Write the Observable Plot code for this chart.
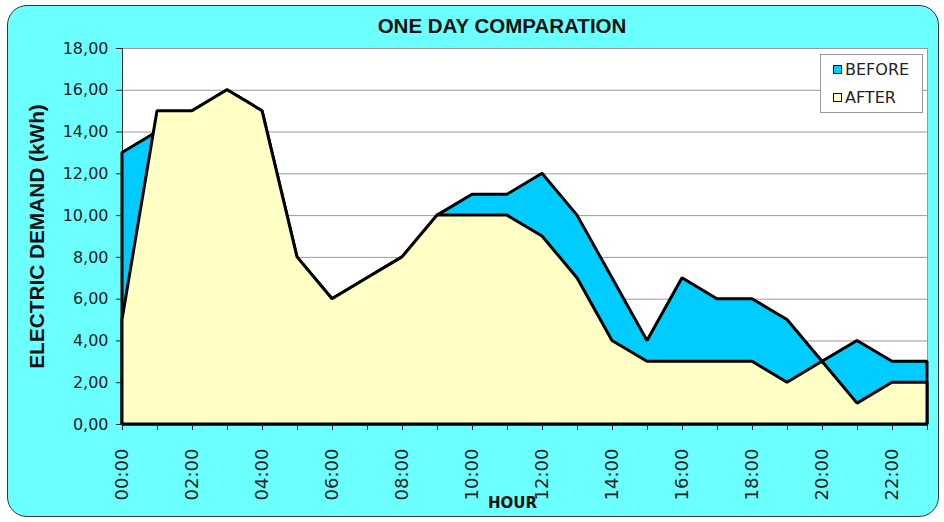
<!DOCTYPE html>
<html><head><meta charset="utf-8">
<script src="https://cdn.jsdelivr.net/npm/d3@7"></script>
<script src="https://cdn.jsdelivr.net/npm/@observablehq/plot@0.6"></script>
<style>
body{margin:0;background:#fff;}
#wrap{position:relative;width:944px;height:522px;overflow:hidden;}
#bg{position:absolute;left:7px;top:5px;width:930px;height:510px;background:#6CFFFF;border:1.5px solid #333;border-radius:20px;}
#chart{position:absolute;left:0;top:0;}
#legend{position:absolute;left:820px;top:54px;width:101px;height:57px;background:#fff;border:1px solid #999;font:16px "DejaVu Sans",sans-serif;color:#222;}
#legend .row{display:flex;align-items:center;height:28px;padding-left:12px;}
#legend .sw{width:7px;height:7px;border:1.5px solid #111;margin-right:3px;}
</style></head>
<body><div id="wrap"><div id="bg"></div><div id="chart"></div><div id="legend"></div></div>
<script>
const hours = ["00:00","01:00","02:00","03:00","04:00","05:00","06:00","07:00","08:00","09:00","10:00","11:00","12:00","13:00","14:00","15:00","16:00","17:00","18:00","19:00","20:00","21:00","22:00","23:00"];
const before = [13,14,15,16,15,8,6,7,8,10,11,11,12,10,7,4,7,6,6,5,3,4,3,3];
const after  = [5,15,15,16,15,8,6,7,8,10,10,10,9,7,4,3,3,3,3,2,3,1,2,2];
const seriesNames = ["BEFORE","AFTER"];
const seriesColors = ["#00CCFF","#FFFFC6"];
const yTicks = [0,2,4,6,8,10,12,14,16,18];
const titleText = "ONE DAY COMPARATION";
const yLabelText = "ELECTRIC DEMAND (kWh)";
const xLabelText = "HOUR";

const beforeData = hours.map((h,i)=>({hour:h, value:before[i]}));
const afterData = hours.map((h,i)=>({hour:h, value:after[i]}));
const fmtY = d => d.toFixed(2).replace(".", ",");

const chart = Plot.plot({
  width: 944, height: 522,
  marginLeft: 122, marginRight: 17, marginTop: 48, marginBottom: 98,
  style: {background: "transparent", overflow: "visible"},
  x: {type: "point", domain: hours, padding: 0},
  y: {domain: [0, 18]},
  marks: [
    Plot.frame({fill: "white"}),
    Plot.gridY(yTicks, {stroke: "#999", strokeOpacity: 1}),
    Plot.frame({stroke: "#999"}),
    Plot.ruleX([hours[0]], {stroke: "#333", strokeWidth: 1}),
    Plot.areaY(beforeData, {x: "hour", y: "value", fill: seriesColors[0], stroke: "black", strokeWidth: 3, strokeLinejoin: "miter"}),
    Plot.areaY(afterData, {x: "hour", y: "value", fill: seriesColors[1], stroke: "black", strokeWidth: 3, strokeLinejoin: "miter"}),
    Plot.axisY(yTicks, {tickFormat: fmtY, tickSize: 6, tickPadding: 8, fontSize: 16, fontFamily: "DejaVu Sans", color: "#222", label: null}),
    Plot.axisX(hours, {tickFormat: d => hours.indexOf(d) % 2 ? "" : d, tickRotate: -90, tickSize: 6, tickPadding: 18, fontSize: 18, fontFamily: "DejaVu Sans", color: "#222", label: null}),
    Plot.text([titleText], {frameAnchor: "top", lineAnchor: "middle", dy: -22, dx: -23, fontSize: 20.5, fontWeight: "bold", fontFamily: "Liberation Sans", fill: "#111"}),
    Plot.text([yLabelText], {frameAnchor: "left", textAnchor: "middle", dx: -85, rotate: -90, fontSize: 20.8, fontWeight: "bold", fontFamily: "Liberation Sans", fill: "#111"}),
    Plot.text([xLabelText], {frameAnchor: "bottom", lineAnchor: "middle", dy: 79, dx: -12.5, fontSize: 15, fontWeight: "bold", fontFamily: "DejaVu Sans", fill: "#111"})
  ]
});
document.getElementById("chart").appendChild(chart);

const legend = document.getElementById("legend");
seriesNames.forEach((n,i)=>{
  const row = document.createElement("div"); row.className = "row";
  const sw = document.createElement("div"); sw.className = "sw"; sw.style.background = seriesColors[i];
  const t = document.createElement("span"); t.textContent = n;
  row.appendChild(sw); row.appendChild(t); legend.appendChild(row);
});
</script>
</body></html>
